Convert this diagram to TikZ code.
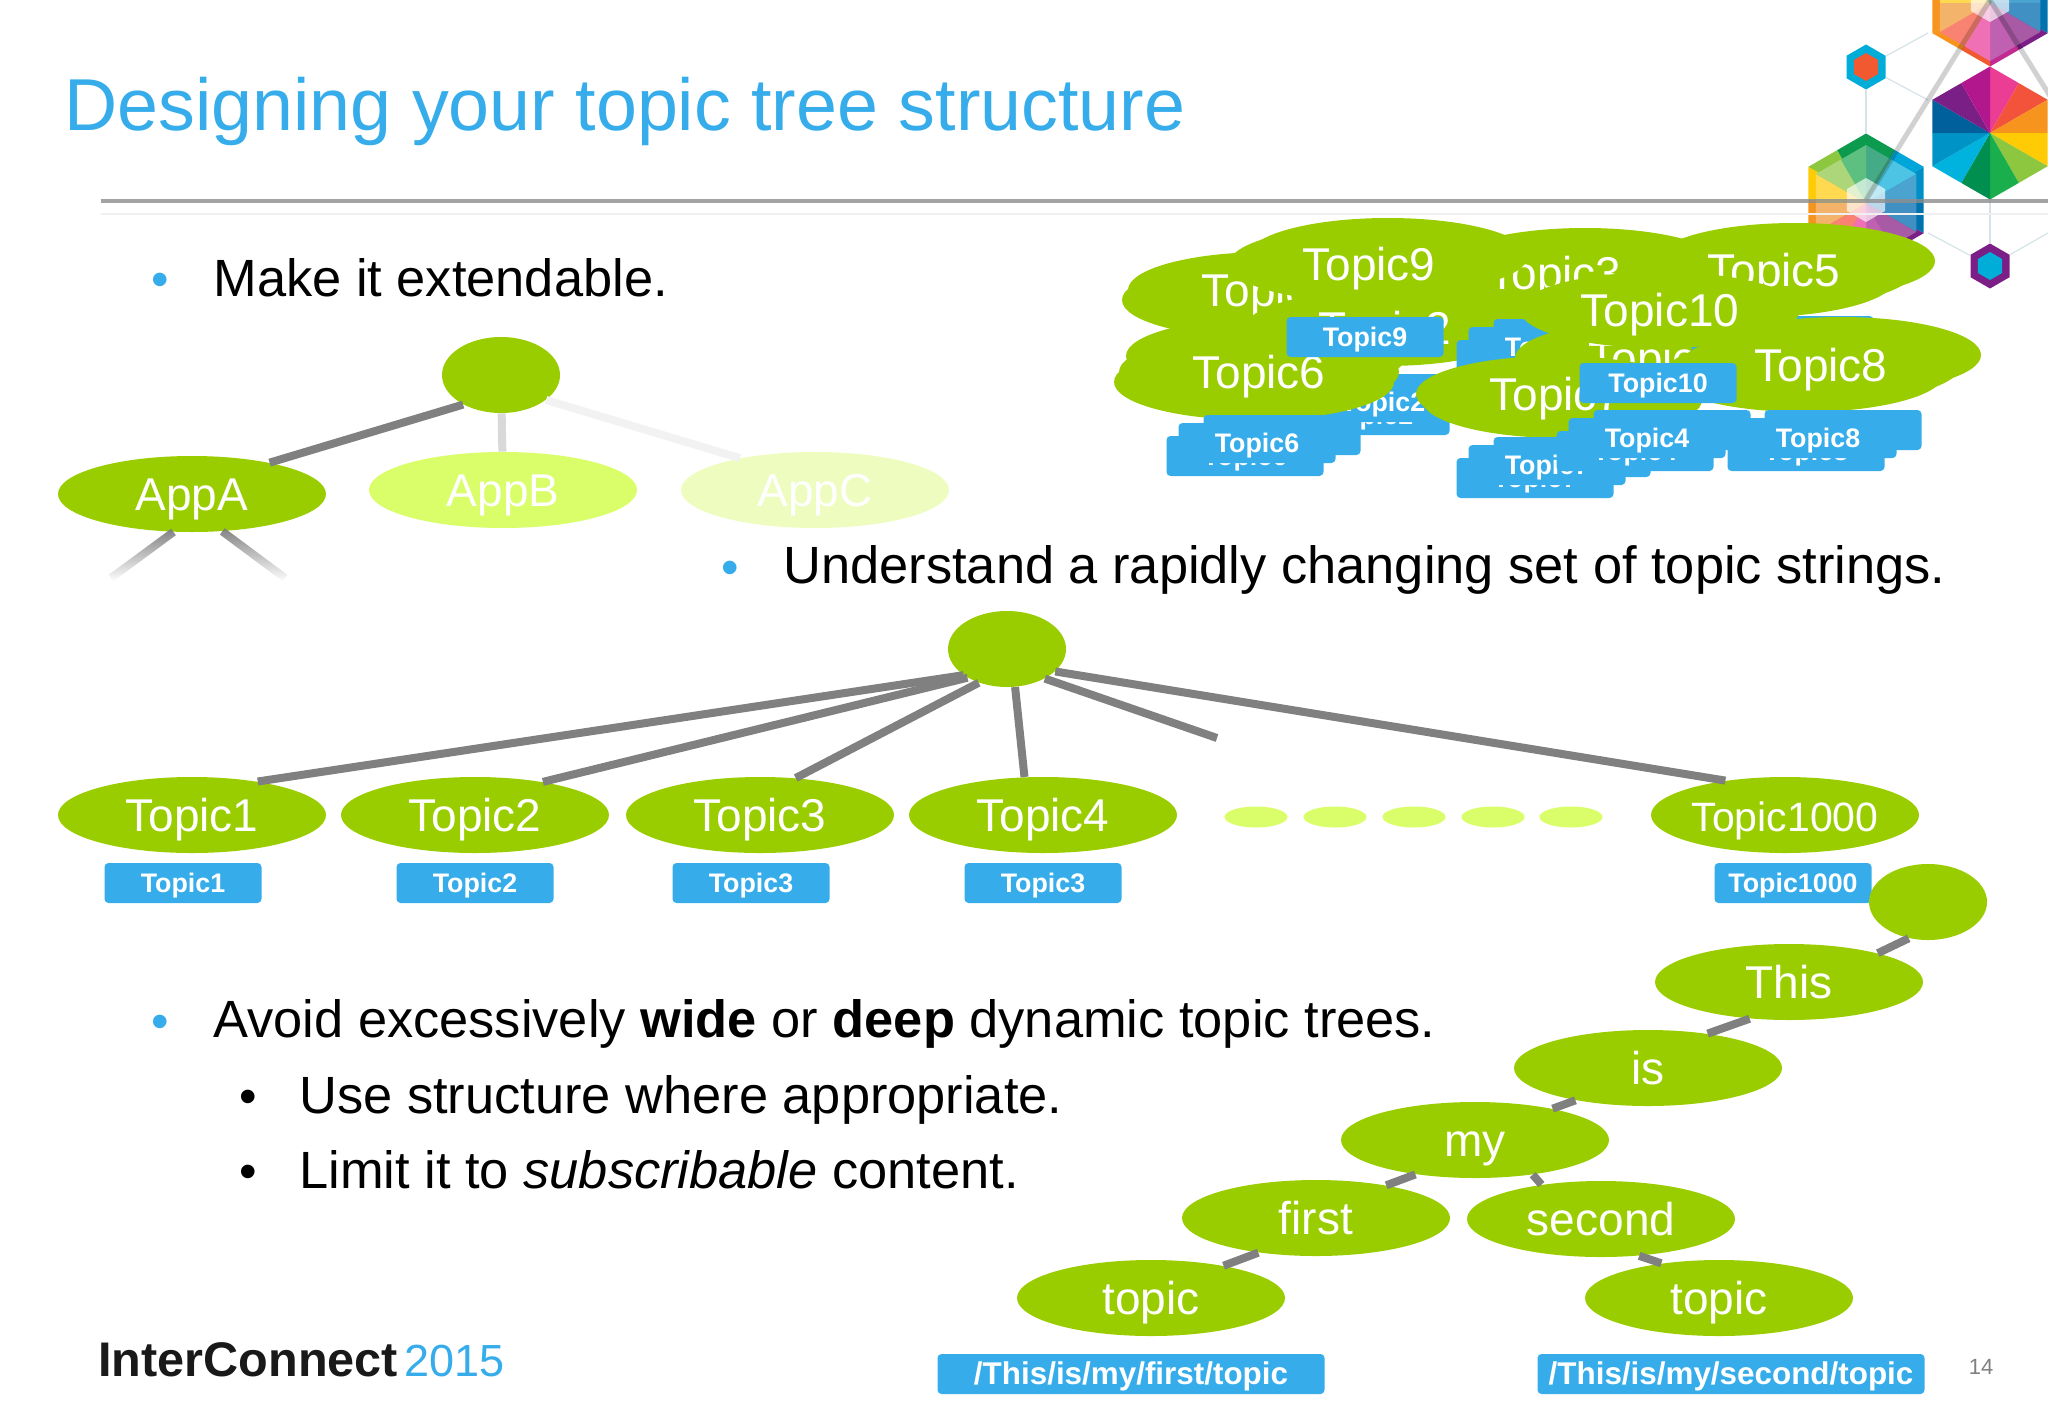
\documentclass[tikz,border=0pt]{standalone}
\usepackage{xcolor}
\usepackage{fontspec}
\setmainfont{Liberation Sans}
\usetikzlibrary{shapes.geometric}
\usetikzlibrary{fadings}

\definecolor{leaf}{HTML}{9ACD00}
\definecolor{leafpale}{HTML}{DAFD6A}
\definecolor{leaffaint}{HTML}{EEFCC0}
\definecolor{sky}{HTML}{36ADEA}
\definecolor{wire}{HTML}{808080}
\definecolor{hexline}{HTML}{D5E3E8}
\definecolor{hexblue}{HTML}{00ACD8}
\definecolor{hexred}{HTML}{F15A30}
\definecolor{hexpurple}{HTML}{7B1F87}
\newcommand{\sz}[1]{\fontsize{#1}{#1}\selectfont}

% one hexagon cut in twelve sectors, clockwise from its top corner
\newcommand{\hexwheel}[4]{
	\foreach \col [count=\i from 0] in {#4} {
		\pgfmathsetmacro\a{-90+30*\i}
		\pgfmathsetmacro\b{\a+30}
		\pgfmathsetmacro\ra{mod(\i,2)==0 ? #3 : #3*0.866}
		\pgfmathsetmacro\rb{mod(\i,2)==0 ? #3*0.866 : #3}
		\definecolor{hexcol}{HTML}{\col}
		\fill[hexcol, shift={(#1,#2)}] (0,0) -- (\a:\ra) -- (\b:\rb) -- cycle;
	}
}

\begin{document}
\begin{tikzpicture}[x=0.5pt, y=-0.5pt, 
	main/.style = {ellipse, fill=leaf, text=white, minimum width=134pt, minimum height=38pt, inner sep=0pt, font=\sz{23}, text height=20pt, text depth=4pt},
	cloud/.style = {main, minimum width=140pt},
	tag/.style = {fill=sky, text=white, rounded corners=2pt, minimum width=78.5pt, minimum height=20pt, inner sep=0pt, font=\bfseries\sz{13.4}, text height=11.5pt, text depth=2pt},
	pathtag/.style = {tag, minimum width=193.5pt, font=\bfseries\sz{15.7}, text height=13pt, text depth=2.5pt},
	link/.style = {draw=wire, line width=4pt},
	para/.style = {anchor=base west, inner sep=0pt, font=\sz{26.2}},
	dotmark/.style = {anchor=center, font=\sz{25}},
	hexdot/.style = {regular polygon, regular polygon sides=6, shape border rotate=90, inner sep=0pt},
	hexwire/.style = {draw=hexline, line width=0.6pt}] 

	\clip (0,0) rectangle (2048,1418);
	\useasboundingbox (0,0) rectangle (2048,1418);

	% corner art
	\node[hexdot, fill=hexblue, minimum size=22.5pt] (hexa) at (1866,67) {};
	\node[hexdot, fill=hexpurple, minimum size=22.5pt] (hexb) at (1990,266) {};
	\coordinate (ha) at (1928,33);
	\coordinate (hb) at (1928,100);
	\coordinate (hc) at (1866,133);
	\coordinate (hd) at (1990,199);
	\coordinate (he) at (1928,233);
	\coordinate (hf) at (2048,233);
	\draw[hexwire] (hexa) -- (ha);
	\draw[hexwire] (hexa) -- (hb);
	\draw[hexwire] (hexa) -- (hc);
	\draw[hexwire] (hexb) -- (hd);
	\draw[hexwire] (hexb) -- (he);
	\draw[hexwire] (hexb) -- (hf);
	\node[hexdot, fill=hexred, minimum size=14pt] (hexa2) at (1866,67) {};
	\node[hexdot, fill=hexblue, minimum size=14pt] (hexb2) at (1990,266) {};

	\hexwheel{1990}{133}{66.5}{EC3D95,F2533A,F7941E,FFCB05,8DC63F,1AAE4C,008F4F,00B2DE,0094C6,00609C,7A1F85,B3178E}
	\foreach \cx/\cy in {1990/0, 1866/200} {
		\hexwheel{\cx}{\cy}{66.5}{0C9A4F,00A5DA,0090C8,0073AF,7B1F87,C22B92,F15A30,F7941E,F7941E,FFCB05,8DC63F,0C9A4F}
		\hexwheel{\cx}{\cy+3}{58}{45AB86,4EC4E4,4BA3D0,4090C4,A95AA5,C060B0,F070B5,F98272,F4B36A,FFD950,ADD67A,5DC080}
		\node[hexdot, fill=white, fill opacity=0.65, minimum size=22pt] at (\cx,\cy) {};
	}
	\coordinate (fold) at (1990,0);
	\coordinate (folda) at (1866,200);
	\coordinate (foldb) at (2060,112);
	\draw[black, opacity=0.18, line width=2.5pt] (fold) -- (folda);
	\draw[black, opacity=0.18, line width=2.5pt] (fold) -- (foldb);

	% heading
	\coordinate (rulea) at (101,201);
	\coordinate (ruleb) at (2048,201);
	\coordinate (rulec) at (101,214);
	\coordinate (ruled) at (2048,214);
	\draw[black!6, line width=0.6pt] (rulec) -- (ruled);
	\draw[black!45, opacity=0.8, line width=1.7pt] (rulea) -- (ruleb);
	\node[anchor=base west, inner sep=0pt, text=sky, font=\sz{36.8}] (title) at (64,130) {Designing your topic tree structure};

	% body text
	\node[dotmark, text=sky] (dota) at (160,285) {•};
	\node[para] (make) at (213,296) {Make it extendable.};
	\node[dotmark, text=sky] (dotb) at (730,573) {•};
	\node[para] (under) at (783,583) {Understand a rapidly changing set of topic strings.};
	\node[dotmark, text=sky] (dotc) at (160,1027) {•};
	\node[para] (avoid) at (213,1037) {Avoid excessively \textbf{wide} or \textbf{deep} dynamic topic trees.};
	\node[dotmark] (dotd) at (248,1102) {•};
	\node[para] (use) at (299,1113) {Use structure where appropriate.};
	\node[dotmark] (dote) at (248,1177) {•};
	\node[para] (limit) at (299,1188) {Limit it to \textit{subscribable} content.};

	% extendable tree
	\node[main, minimum width=59pt] (rootA) at (501,375) {};
	\node[main] (AppA) at (192,494) {AppA};
	\node[main, fill=leafpale] (AppB) at (503,490) {AppB};
	\node[main, fill=leaffaint] (AppC) at (815,490) {AppC};
	\coordinate (fadeA) at (111,578);
	\coordinate (fadeB) at (285,578);
	\draw[link] (rootA.218) -- (AppA.22);
	\draw[link, draw=black!15] (rootA) -- (AppB);
	\draw[link, draw=black!5] (rootA.331) -- (AppC.157);
	\draw[link, path fading=south] (AppA.244) -- (fadeA);
	\draw[link, path fading=south] (AppA.309) -- (fadeB);

	% wide tree
	\node[main, minimum width=59pt] (rootB) at (1007,649) {};
	\node[main] (T1) at (192,815) {Topic1};
	\node[main] (T2) at (475,815) {Topic2};
	\node[main] (T3) at (760,815) {Topic3};
	\node[main] (T4) at (1043,815) {Topic4};
	\node[main, font=\sz{20.5}] (T1000) at (1785,815) {Topic1000};
	\coordinate (stub) at (1217,738);
	\draw[link] (rootB.211) -- (T1.27);
	\draw[link] (rootB.216) -- (T2.26);
	\draw[link] (rootB.230) -- (T3.46);
	\draw[link] (rootB.282) -- (T4.116);
	\draw[link] (rootB.322) -- (stub);
	\draw[link] (rootB.335) -- (T1000.150);
	\foreach \x [count=\i] in {1256,1335,1414,1493,1571} {
		\node[ellipse, fill=leafpale, minimum width=31.5pt, minimum height=10.5pt, inner sep=0pt] (gap\i) at (\x,817) {};
	}
	\node[tag] (bT1) at (183,883) {Topic1};
	\node[tag] (bT2) at (475,883) {Topic2};
	\node[tag] (bT3) at (751,883) {Topic3};
	\node[tag] (bT4) at (1043,883) {Topic3};
	\node[tag] (bT1000) at (1793,883) {Topic1000};

	% deep tree
	\node[main, minimum width=59pt] (rootC) at (1928,902) {};
	\node[main] (This) at (1789,982) {This};
	\node[main] (is) at (1648,1068) {is};
	\node[main] (my) at (1475,1140) {my};
	\node[main] (first) at (1316,1218) {first};
	\node[main] (second) at (1601,1219) {second};
	\node[main] (topicA) at (1151,1298) {topic};
	\node[main] (topicB) at (1719,1298) {topic};
	\draw[link] (rootC.242) -- (This.18);
	\draw[link] (This.223) -- (is.30);
	\draw[link] (is.204) -- (my.22);
	\draw[link] (my.210) -- (first.25);
	\draw[link] (my.329) -- (second.150);
	\draw[link] (first.211) -- (topicA.24);
	\draw[link] (second.316) -- (topicB.149);
	\node[pathtag] (pathA) at (1131,1374) {/This/is/my/first/topic};
	\node[pathtag] (pathB) at (1731,1374) {/This/is/my/second/topic};

	% the cloud of topics
	\node[cloud] (e1a) at (1262,300) {};
	\node[cloud] (e1) at (1268,290) {Topic1};
	\node[cloud] (e3a) at (1585,266) {};
	\node[cloud] (e3b) at (1555,285) {};
	\node[cloud] (e3) at (1555,273) {Topic3};
	\node[cloud] (e2) at (1385,328) {Topic2};
	\node[cloud] (e9a) at (1388,256) {};
	\node[cloud] (e9) at (1369,264) {Topic9};
	\node[cloud] (e5a) at (1795,261) {};
	\node[cloud] (e5b) at (1755,279) {};
	\node[cloud] (e5) at (1774,270) {Topic5};
	\foreach \name/\x/\y in {Topic3/1547/347, Topic2/1383/402} {
		\node[tag] (\name back) at (\x-12,\y+13) {\name};
		\node[tag] (\name up) at (\x+25,\y-8) {};
		\node[tag] (\name box) at (\x,\y) {\name};
	}
	\node[cloud] (e4) at (1655,358) {Topic4};
	\node[tag] (t5a) at (1795,336) {};
	\node[tag] (t5b) at (1770,344) {};
	\node[cloud] (e10) at (1660,310) {Topic10};
	\node[cloud] (e6a) at (1254,382) {};
	\node[cloud] (e6b) at (1266,356) {};
	\node[cloud] (e6) at (1259,372) {Topic6};
	\node[cloud] (e7a) at (1562,400) {};
	\node[cloud] (e7) at (1556,394) {Topic7};
	\node[cloud] (e8a) at (1804,374) {};
	\node[cloud] (e8b) at (1841,355) {};
	\node[cloud] (e8) at (1821,365) {Topic8};
	\node[tag] (t9) at (1365,337) {Topic9};
	\node[tag] (t10) at (1658,383) {Topic10};
	\foreach \name/\x/\y in {Topic6/1257/443, Topic7/1547/465, Topic4/1647/438, Topic8/1818/438} {
		\node[tag] (\name back) at (\x-12,\y+13) {\name};
		\node[tag] (\name up) at (\x+25,\y-8) {};
		\node[tag] (\name box) at (\x,\y) {\name};
	}

	% footer
	\node[anchor=base west, inner sep=0pt, font=\bfseries\sz{24.3}, text=black!90] (brand) at (98,1376) {InterConnect};
	\node[anchor=base west, inner sep=0pt, font=\sz{22.5}, text=sky] (year) at (404,1376) {2015};
	\node[text=wire, font=\sz{11}] (page) at (1981,1367) {14};
\end{tikzpicture}
\end{document}
